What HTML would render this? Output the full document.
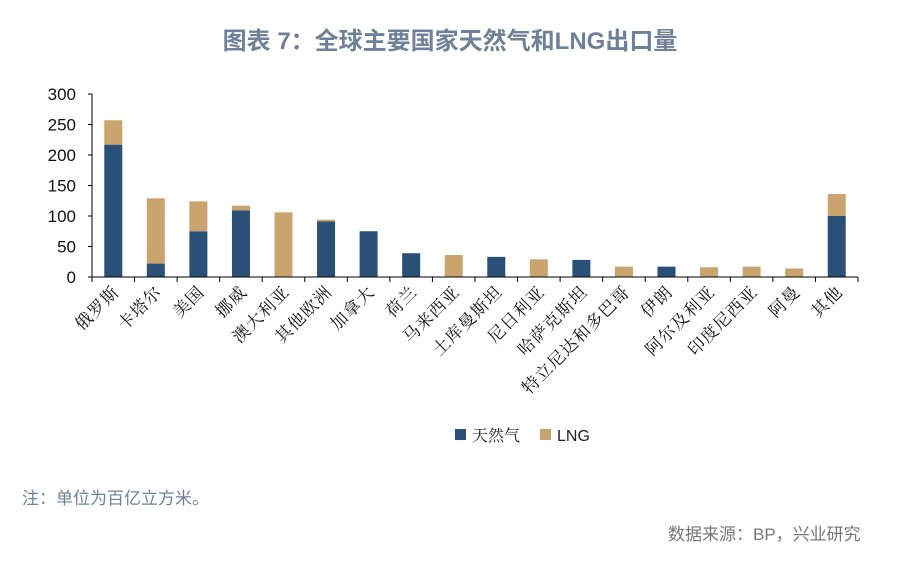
<!DOCTYPE html>
<html><head><meta charset="utf-8"><style>
body{margin:0;width:900px;height:576px;background:#fff;font-family:"Liberation Sans","Noto Sans CJK SC",sans-serif;overflow:hidden}
</style></head><body>
<svg width="900" height="576" font-family="Liberation Sans, Noto Sans CJK SC, sans-serif">
<text x="450" y="49" text-anchor="middle" font-size="24" font-weight="bold" fill="#6f8199">图表 7：全球主要国家天然气和LNG出口量</text>
<g id="yaxis"></g>
<g id="bars"></g>
<g id="xaxis"></g>
<g>
<rect x="455" y="429" width="11" height="11" fill="#2b5077"/>
<text x="472" y="441" font-size="16" fill="#222" font-family="Liberation Serif, Noto Serif CJK SC, serif">天然气</text>
<rect x="540" y="429" width="11" height="11" fill="#c9a46e"/>
<text x="557" y="441" font-size="16" fill="#222">LNG</text>
</g>
<text x="22" y="504" font-size="17" fill="#6f8199">注：单位为百亿立方米。</text>
<text x="668" y="540" font-size="17" fill="#777">数据来源：BP，兴业研究</text>
</svg>
<script>
const categories=["俄罗斯","卡塔尔","美国","挪威","澳大利亚","其他欧洲","加拿大","荷兰","马来西亚","土库曼斯坦","尼日利亚","哈萨克斯坦","特立尼达和多巴哥","伊朗","阿尔及利亚","印度尼西亚","阿曼","其他"];
const gasValues=[217,22,75,109,0,91,75,39,0,33,0,28,0,17,0,0,0,100];
const lngValues=[40,107,49,8,106,3,0,0,36,0,29,0,17,0,16,17,14,36];
const yTicks=[0,50,100,150,200,250,300];
const NS="http://www.w3.org/2000/svg";
const x0=92,x1=858,y0=277,yTop=94,yMax=300;
const bw=(x1-x0)/categories.length;
const ys=v=>y0-(v/yMax)*(y0-yTop);
const xc=i=>x0+bw*(i+0.5);
function mk(tag,attrs,parent){const e=document.createElementNS(NS,tag);for(const k in attrs)e.setAttribute(k,attrs[k]);parent.appendChild(e);return e;}
const ya=document.getElementById('yaxis'),xa=document.getElementById('xaxis'),bars=document.getElementById('bars');
let l=mk('line',{x1:x0,y1:yTop,x2:x0,y2:y0,stroke:'#000','stroke-width':1},ya);


yTicks.forEach(t=>{
 const tk=mk('line',{x1:x0-4,y1:ys(t),x2:x0,y2:ys(t),stroke:'#000'},ya);
 
 
 const tx=mk('text',{x:x0-16,y:ys(t)+6,'text-anchor':'end','font-size':17,fill:'#111'},ya);
 tx.textContent=t;
 
 
});
l=mk('line',{x1:x0,y1:y0,x2:x1,y2:y0,stroke:'#000'},xa);


for(let i=0;i<=categories.length;i++){
 const tk=mk('line',{x1:x0+bw*i,y1:y0,x2:x0+bw*i,y2:y0+5,stroke:'#000'},xa);
 
 
}
categories.forEach((c,i)=>{
 const cx=xc(i),w=18;
 const g=gasValues[i],n=lngValues[i];
 if(g>0){const r=mk('rect',{x:cx-w/2,y:ys(g),width:w,height:y0-ys(g),fill:'#2b5077'},bars);
 
 }
 if(n>0){const r=mk('rect',{x:cx-w/2,y:ys(g+n),width:w,height:ys(g)-ys(g+n),fill:'#c9a46e'},bars);
 
 }
 const t=mk('text',{x:cx+7,y:y0+16,'text-anchor':'end','font-size':17,fill:'#111','font-family':'Liberation Serif, Noto Serif CJK SC, serif',transform:`rotate(-45 ${cx+7} ${y0+16})`,'letter-spacing':'1'},xa);
 t.textContent=c;
 
 
});
</script>
</body></html>
